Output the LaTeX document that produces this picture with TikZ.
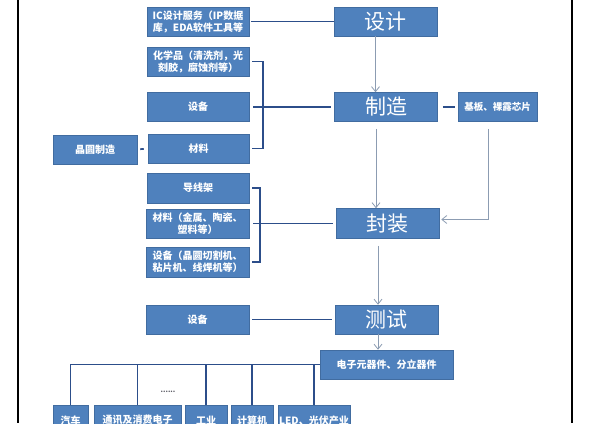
\documentclass[tikz,border=0pt]{standalone}
\usepackage{fontspec}
\setmainfont{Noto Sans CJK SC}
\usepackage{tikz}
\usetikzlibrary{arrows.meta,positioning,calc}
\definecolor{boxblue}{RGB}{79,129,189}
\definecolor{boxedge}{RGB}{65,108,160}
\definecolor{linkblue}{RGB}{44,78,138}
\definecolor{arrowgray}{RGB}{140,156,178}
\definecolor{dotgray}{RGB}{90,90,100}

\begin{document}
\begin{tikzpicture}[
    x=1pt, y=-1pt,
    box/.style={draw=boxedge, line width=0.5pt, fill=boxblue, inner sep=1pt,
                minimum width=102pt, minimum height=29pt, align=center,
                font=\fontsize{10}{12}\selectfont\bfseries\color{white}},
    stagebox/.style={box, minimum width=103pt, font=\fontsize{21}{24}\selectfont\color{white}},
    enduse/.style={box, minimum height=30pt, anchor=north},
    link/.style={line width=1.7pt, linkblue},
    arr/.style={-{Straight Barb[length=5pt, width=8pt]}, line width=0.8pt, arrowgray}
]
\clip (0,0) rectangle (594,423);
\fill[white] (0,0) rectangle (594,423);
\draw[line width=1.3pt, black] (18,0) -- (18,423);
\draw[line width=1.3pt, black] (572,0) -- (572,423);

% main stages
\node[stagebox] (design) at (385.5,21.5) {设计};
\node[stagebox] (make) at (386,107) {制造};
\node[stagebox, minimum height=30pt] (pack) at (387.5,223.5) {封装};
\node[stagebox] (test) at (386.5,319.5) {测试};

% inputs
\node[box] (ic) at (198,21.5) {IC设计服务（IP数据\\库，EDA软件工具等};
\node[box] (chem) at (198,61.5) {化学品（清洗剂，光\\刻胶，腐蚀剂等）};
\node[box] (equipA) at (198,107) {设备};
\node[box, minimum width=101pt] (matA) at (198.5,148.5) {材料};
\node[box, minimum width=84pt] (wafer) at (95,149.5) {晶圆制造};
\node[box, minimum width=79pt, font=\fontsize{9.5}{11}\selectfont\bfseries\color{white}] (substrate) at (497.5,107) {基板、裸露芯片};
\node[box, minimum height=30pt] (frame) at (198,188) {导线架};
\node[box, minimum width=103pt] (matB) at (197.5,223.5) {材料（金属、陶瓷、\\塑料等）};
\node[box, minimum width=103pt, minimum height=30pt] (equipB) at (197.5,262) {设备（晶圆切割机、\\粘片机、线焊机等）};
\node[box, minimum width=103pt] (equipC) at (197.5,319.5) {设备};
\node[box, minimum width=133pt] (elec) at (386.5,364.5) {电子元器件、分立器件};

% end uses
\node[enduse, minimum width=35pt] (car) at (70.5,405) {汽车};
\node[enduse, minimum width=87pt] (comm) at (137.5,405) {通讯及消费电子};
\node[enduse, minimum width=42pt] (ind) at (206,405) {工业};
\node[enduse, minimum width=42pt] (comp) at (252,405) {计算机};
\node[enduse, minimum width=72pt] (led) at (314,405) {LED、光伏产业};
\node[font=\fontsize{7}{8}\selectfont\bfseries\color{dotgray}] (more) at (168,392) {......};

% flow
\draw[arr] ([xshift=-10pt]design.south) -- ([xshift=-10pt]design.south |- make.north);
\draw[arr, shorten <=7pt] ([xshift=-10pt]make.south) -- ([xshift=-10pt]make.south |- pack.north);
\draw[arr, shorten <=7pt, shorten >=2pt] ([xshift=-9.5pt]substrate.south) |- ([yshift=4pt]pack.east);
\draw[arr, shorten <=7pt] ([xshift=-9.5pt]pack.south) -- ([xshift=-9.5pt]pack.south |- test.north);
\draw[arr] ([xshift=-8.5pt]test.south) -- ([xshift=-8.5pt]test.south |- elec.north);

% inputs to stages
\draw[link, shorten <=2pt] (ic.east) -- (design.west);
\coordinate (busA) at (263,107);
\draw[link, line cap=rect] ([xshift=4pt]chem.east) -| (busA) |- ([xshift=4pt]matA.east);
\draw[link, shorten <=4pt, shorten >=3pt] (equipA.east) -- (make.west);
\draw[link, shorten <=3pt, shorten >=4pt] (wafer.east) -- (matA.west);
\draw[link, shorten <=5pt, shorten >=3pt] (make.east) -- (substrate.west);
\coordinate (busB) at (260,223.5);
\draw[link, line cap=rect] ([xshift=4pt]frame.east) -| (busB) |- ([xshift=4pt]equipB.east);
\draw[link, shorten <=4pt, shorten >=3pt] (matB.east) -- (pack.west);
\draw[link, shorten <=3pt, shorten >=3pt] (equipC.east) -- (test.west);

% end-use tree
\foreach \u in {car,comm,ind,comp,led}
  \draw[link] (elec.west) -| (\u.north);
\end{tikzpicture}
\end{document}
